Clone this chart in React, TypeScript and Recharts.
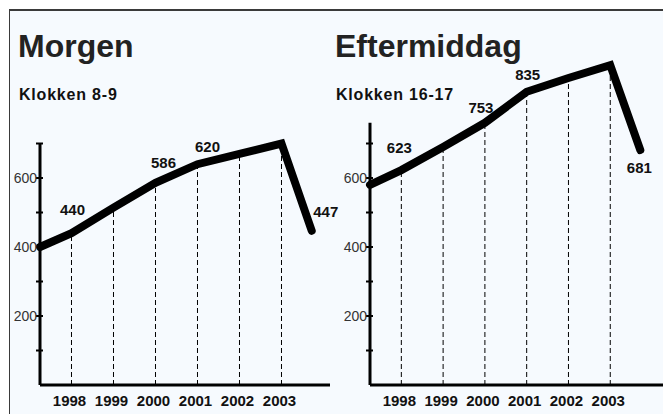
import { LineChart, Line, XAxis, YAxis, ReferenceLine, LabelList } from 'recharts'

const FONT = '"Liberation Sans", Arial, Helvetica, sans-serif'

// x positions: a lead-in point on the axis, the years, and a trailing point
const X_POS = [1997.25, 1998, 1999, 2000, 2001, 2002, 2003, 2003.72]
const YEARS = [1998, 1999, 2000, 2001, 2002, 2003]

const MORGEN = [400, 440, 514, 586, 640, 670, 700, 447]
const MORGEN_LABELS = ['', '440', '', '586', '620', '', '', '447']

const EFTERMIDDAG = [580, 623, 690, 760, 850, 890, 927, 681]
const EFTERMIDDAG_LABELS = ['', '623', '', '753', '835', '', '', '681']

const Y_TICKS = [100, 200, 300, 400, 500, 600, 700]
const Y_TICK_LABELS = [200, 400, 600]

// label nudges (dx, dy from the point), by index
const MORGEN_SHIFT: ([number, number] | null)[] = [null, [1, -18], null, [8, -15], [10, -12], null, null, [14, -14]]
const EFTER_SHIFT: ([number, number] | null)[] = [null, [-2, -17], null, [-4, -10], [1, -12], null, null, [-1, 23]]

const YearTick = (props: any) => {
  const { x, y, payload } = props
  return (
    <text x={x - 2} y={y + 21} textAnchor="middle" fontSize={15} fontWeight="bold" fill="#111" fontFamily={FONT}>
      {payload.value}
    </text>
  )
}

const ValueTick = (props: any) => {
  const { x, y, payload } = props
  return (
    <g>
      <line x1={x - 4} x2={x + 3} y1={y} y2={y} stroke="#000" strokeWidth={2} />
      {Y_TICK_LABELS.includes(payload.value) && (
        <text x={x - 3} y={y + 5} textAnchor="end" fontSize={14} fill="#333" fontFamily={FONT}>
          {payload.value}
        </text>
      )}
    </g>
  )
}

function Panel({ values, labels, shifts, xMax, axisTop, width, rightPad }: any) {
  const data = X_POS.map((x, i) => ({ x, v: values[i], label: labels[i] }))
  const drops = data.filter((d) => YEARS.includes(d.x))

  return (
    <LineChart width={width} height={414} data={data} margin={{ top: 40, right: rightPad, bottom: 0, left: 0 }}>
      <XAxis
        dataKey="x"
        type="number"
        domain={[X_POS[0], xMax]}
        ticks={YEARS}
        interval={0}
        height={29}
        tickSize={0}
        tickMargin={0}
        tickLine={false}
        axisLine={{ stroke: '#000', strokeWidth: 3 }}
        tick={(p: any) => <YearTick {...p} />}
      />
      <YAxis
        type="number"
        domain={[0, 1000]}
        ticks={Y_TICKS}
        interval={0}
        width={40}
        tickSize={0}
        tickMargin={0}
        tickLine={false}
        axisLine={false}
        tick={(p: any) => <ValueTick {...p} />}
      />
      <ReferenceLine
        segment={[{ x: X_POS[0], y: 0 }, { x: X_POS[0], y: axisTop }]}
        stroke="#000"
        strokeWidth={3}
        ifOverflow="visible"
      />
      {drops.map((d) => (
        <ReferenceLine
          key={d.x}
          segment={[{ x: d.x, y: 0 }, { x: d.x, y: d.v }]}
          stroke="#000"
          strokeWidth={1}
          strokeDasharray="5 3"
          ifOverflow="visible"
        />
      ))}
      <Line
        dataKey="v"
        stroke="#000"
        strokeWidth={8}
        strokeLinejoin="miter"
        strokeLinecap="round"
        dot={false}
        activeDot={false}
        isAnimationActive={false}
      >
        <LabelList
          dataKey="label"
          content={(p: any) => {
            if (!p.value) return null
            const s = shifts[labels.indexOf(p.value)]
            if (!s) return null
            return (
              <text
                x={p.x + s[0]}
                y={p.y + s[1]}
                textAnchor="middle"
                fontSize={15}
                fontWeight="bold"
                fill="#111"
                fontFamily={FONT}
              >
                {p.value}
              </text>
            )
          }}
        />
      </Line>
    </LineChart>
  )
}

export default function App() {
  return (
    <div
      style={{
        position: 'absolute',
        left: 0,
        top: 0,
        width: 663,
        height: 414,
        overflow: 'hidden',
        background: '#fff',
        fontFamily: FONT,
      }}
    >
      <div
        style={{
          position: 'absolute',
          left: 9,
          top: 9,
          width: 700,
          height: 450,
          borderLeft: '1px solid #3a3a3a',
          borderTop: '2px solid #3a3a3a',
          background: '#f6fafe',
        }}
      />
      <svg width={663} height={414} style={{ position: 'absolute', left: 0, top: 0 }}>
        <text x={18} y={57} fontSize={32} fontWeight="bold" fill="#222" fontFamily={FONT}>
          Morgen
        </text>
        <text x={19} y={100} fontSize={16} fontWeight="bold" fill="#111" letterSpacing={0.8} fontFamily={FONT}>
          Klokken 8-9
        </text>
        <text x={335} y={57} fontSize={32} fontWeight="bold" fill="#222" fontFamily={FONT}>
          Eftermiddag
        </text>
        <text x={336} y={100} fontSize={16} fontWeight="bold" fill="#111" letterSpacing={0.8} fontFamily={FONT}>
          Klokken 16-17
        </text>
      </svg>
      <div style={{ position: 'absolute', left: 0, top: 0 }}>
        <Panel
          values={MORGEN}
          labels={MORGEN_LABELS}
          shifts={MORGEN_SHIFT}
          xMax={2004.155}
          axisTop={700}
          width={345}
          rightPad={15}
        />
      </div>
      <div style={{ position: 'absolute', left: 330, top: 0 }}>
        <Panel
          values={EFTERMIDDAG}
          labels={EFTERMIDDAG_LABELS}
          shifts={EFTER_SHIFT}
          xMax={2004.43}
          axisTop={760}
          width={340}
          rightPad={0}
        />
      </div>
    </div>
  )
}
